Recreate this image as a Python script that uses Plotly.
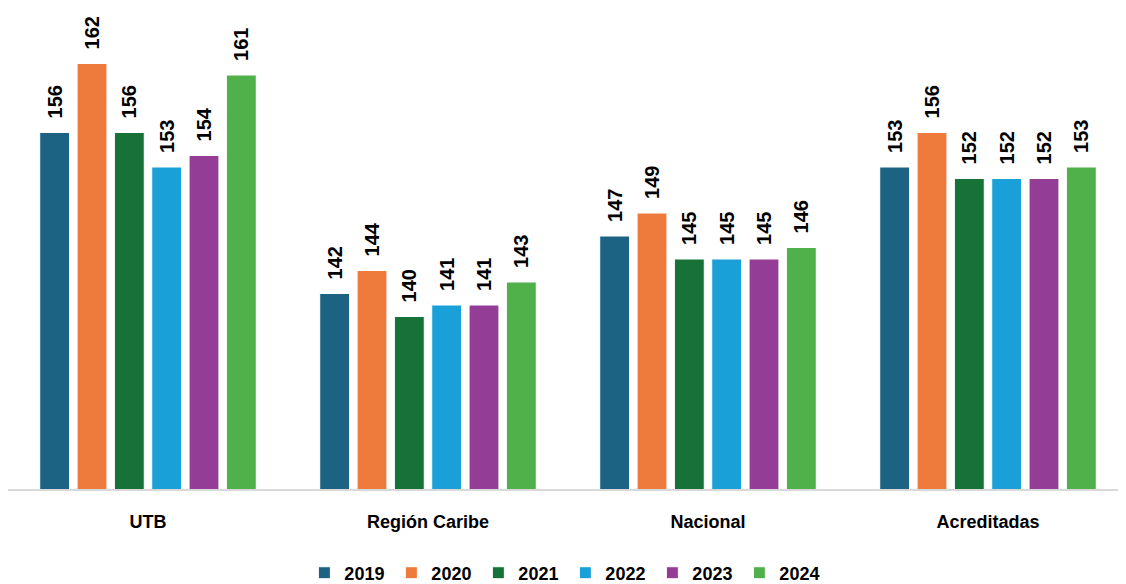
import plotly.graph_objects as go

categories = ["UTB", "Región Caribe", "Nacional", "Acreditadas"]
years = ["2019", "2020", "2021", "2022", "2023", "2024"]
values = {
    "2019": [156, 142, 147, 153],
    "2020": [162, 144, 149, 156],
    "2021": [156, 140, 145, 152],
    "2022": [153, 141, 145, 152],
    "2023": [154, 141, 145, 152],
    "2024": [161, 143, 146, 153],
}
colors = ["#1b6283", "#ee7a3c", "#177238", "#19a0d8", "#933d96", "#50b04a"]

fig = go.Figure()
for yr, col in zip(years, colors):
    fig.add_trace(go.Bar(
        x=categories, y=values[yr], name=yr,
        marker=dict(color=col, line=dict(color="white", width=1)),
        texttemplate="\u00a0\u00a0%{y}",
        textposition="outside", textangle=-90, constraintext="none",
        cliponaxis=False,
        textfont=dict(family="Liberation Sans, Arial", size=20, color="black", weight="bold"),
    ))

fig.update_layout(
    width=1126, height=584,
    barmode="group", bargap=0.2, bargroupgap=0.2,
    plot_bgcolor="white", paper_bgcolor="white",
    margin=dict(l=0, r=6, t=21, b=103, autoexpand=False),
    showlegend=True,
    legend=dict(orientation="h", xref="container", yref="container",
                x=0.495, xanchor="center", y=0.0325, yanchor="middle",
                font=dict(family="Liberation Sans, Arial", size=18, color="black", weight="bold"),
                itemwidth=30, entrywidth=42, tracegroupgap=0),
    xaxis=dict(showline=True, linecolor="#d9d9d9", linewidth=2, ticks="",
               tickfont=dict(family="Liberation Sans, Arial", size=18, color="black", weight="bold"),
               ticklabelstandoff=15),
    yaxis=dict(range=[125, 165], visible=False, showgrid=False),
)
fig.write_html("out.html")
